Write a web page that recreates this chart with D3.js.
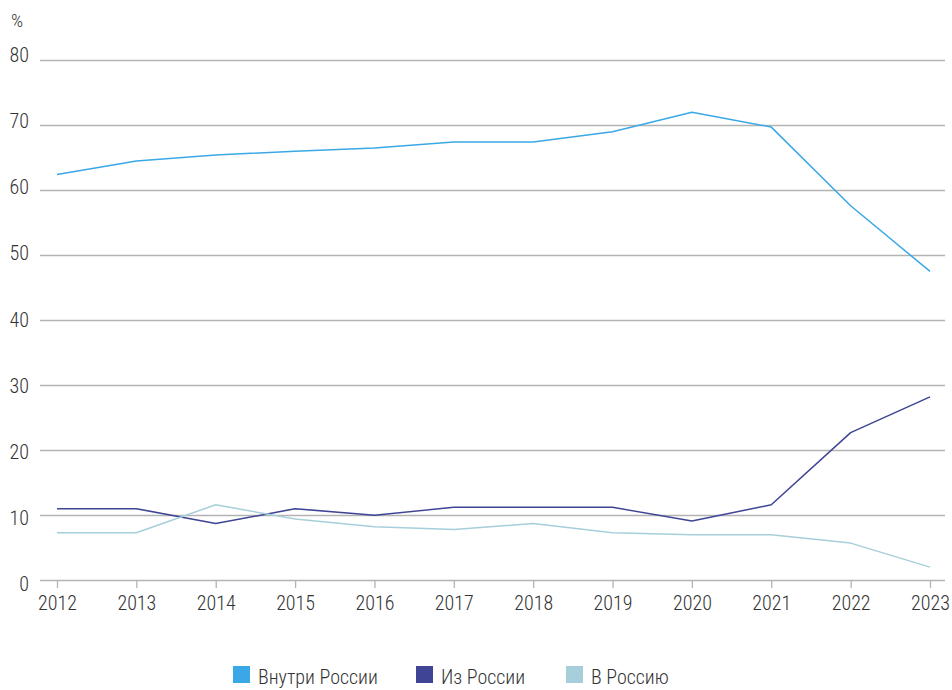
<!DOCTYPE html>
<html><head><meta charset="utf-8">
<script src="https://cdn.jsdelivr.net/npm/d3@7/dist/d3.min.js"></script>
<style>
body{margin:0;background:#fff;}
text{font-family:"Roboto Condensed","Liberation Sans Narrow","DejaVu Sans Condensed",Roboto,sans-serif;fill:#333;font-weight:300;}
</style></head>
<body><svg id="c" width="952" height="690"></svg>
<script>
const years = [2012,2013,2014,2015,2016,2017,2018,2019,2020,2021,2022,2023];
const seriesNames = ["Внутри России","Из России","В Россию"];
const seriesColors = ["#3aa8e6","#3f4494","#a6cfdb"];
const inside = [62.3,64.4,65.3,65.9,66.4,67.3,67.3,68.9,71.9,69.6,57.5,47.4];
const fromRussia = [10.9,10.9,8.6,10.9,9.9,11.1,11.1,11.1,9.0,11.5,22.6,28.1];
const toRussia = [7.2,7.2,11.5,9.3,8.1,7.7,8.6,7.2,6.9,6.9,5.6,1.9];
const yTicks = [0,10,20,30,40,50,60,70,80];
const unitLabel = "%";

const svg = d3.select("#c");
const x = d3.scalePoint().domain(years).range([57,930]);
const y = d3.scaleLinear().domain([0,80]).range([579.5,59.5]);
const yLab = d3.scaleLinear().domain([0,80]).range([584,55]);
const FONT = '"Roboto Condensed","Liberation Sans Narrow","DejaVu Sans Condensed",Roboto,sans-serif';

// gridlines
svg.append("g").selectAll("line").data(yTicks).join("line")
  .attr("x1",40).attr("x2",945)
  .attr("y1",d=>Math.round(y(d))+0.5).attr("y2",d=>Math.round(y(d))+0.5)
  .attr("stroke","#b3b3b3").attr("stroke-width",1.3);

// y labels
svg.append("g").selectAll("text").data(yTicks).join("text")
  .attr("x",29).attr("y",d=>yLab(d)).attr("dy","0.35em")
  .attr("text-anchor","end").attr("font-size",20).text(d=>d);

svg.append("text").attr("x",11).attr("y",20).attr("dy","0.35em")
  .attr("font-size",19).text(unitLabel);

// x axis
const xAxis = d3.axisBottom(x).tickSize(8).tickPadding(8);
const gx = svg.append("g").attr("transform","translate(0,580)").call(xAxis);
gx.select(".domain").remove();
gx.selectAll(".tick line").attr("stroke","#b3b3b3").attr("stroke-width",1.3);
gx.selectAll(".tick text").attr("font-size",20).attr("fill","#333")
  .style("font-family",FONT).style("font-weight",300);

// lines
const allSeries = [inside, fromRussia, toRussia];
const line = d3.line().x((d,i)=>x(years[i])).y(d=>y(d));
svg.append("g").selectAll("path").data(allSeries).join("path")
  .attr("d",line).attr("fill","none")
  .attr("stroke",(d,i)=>seriesColors[i]).attr("stroke-width",1.5)
  .attr("stroke-linejoin","round");

// legend
const legX = [233,416,566];
const lg = svg.append("g").selectAll("g").data(seriesNames).join("g")
  .attr("transform",(d,i)=>`translate(${legX[i]},666)`);
lg.append("rect").attr("width",17).attr("height",17).attr("fill",(d,i)=>seriesColors[i]);
lg.append("text").attr("x",25).attr("y",18).attr("font-size",20).text(d=>d);
</script></body></html>
